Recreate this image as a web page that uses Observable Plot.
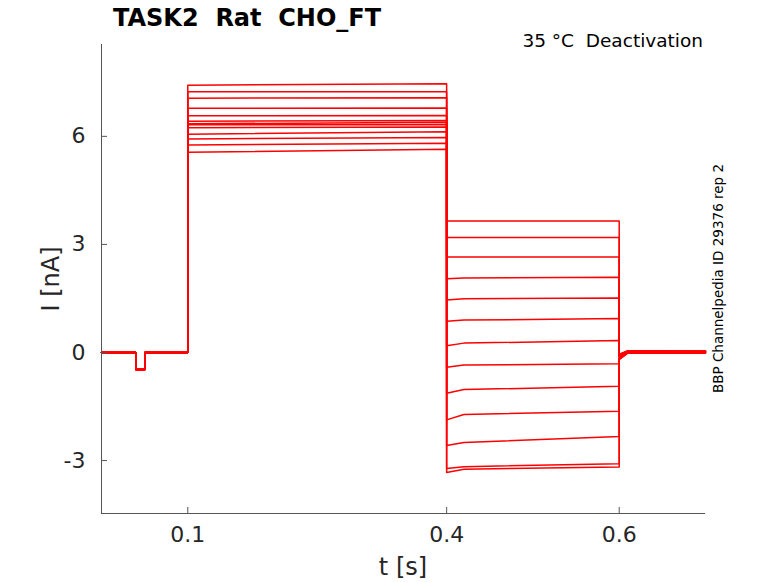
<!DOCTYPE html>
<html>
<head>
<meta charset="utf-8">
<script src="https://cdn.jsdelivr.net/npm/d3@7"></script>
<script src="https://cdn.jsdelivr.net/npm/@observablehq/plot@0.6"></script>
<style>
  html, body { margin: 0; padding: 0; background: #fff; }
  #chart { width: 778px; height: 583px; }
</style>
</head>
<body>
<div id="chart"></div>
<script>
// ---- data ----
const title = "TASK2  Rat  CHO_FT";
const subtitle = "35 °C  Deactivation";
const sideNote = "BBP Channelpedia ID 29376 rep 2";
const xLabel = "t [s]";
const yLabel = "I [nA]";

const xTicks = [0.1, 0.4, 0.6];
const yTicks = [-3, 0, 3, 6];

// protocol times (s)
const dipOn = 0.0397, dipOff = 0.0503;
const stepOn = 0.1, stepOff = 0.4, midT = 0.42, testOff = 0.6, tailMidT = 0.61, tEnd = 0.7;
const dipLevel = -0.47;

// activation step current (nA), at start and end of the step, per sweep
const actStart = [7.42, 7.24, 7.06, 6.78, 6.57, 6.42, 6.35, 6.32, 6.24, 6.06, 5.93, 5.76, 5.56];
const actEnd   = [7.46, 7.24, 7.07, 6.79, 6.58, 6.44, 6.39, 6.33, 6.26, 6.13, 5.97, 5.81, 5.64];

// deactivation test current (nA): start, early (0.42 s), end
const deacStart = [3.65, 3.19, 2.65, 2.05, 1.46, 0.87, 0.19, -0.41, -1.13, -1.87, -2.58, -3.22, -3.33];
const deacMid   = [3.65, 3.19, 2.65, 2.07, 1.49, 0.90, 0.26, -0.35, -1.03, -1.72, -2.50, -3.17, -3.24];
const deacEnd   = [3.65, 3.19, 2.65, 2.09, 1.51, 0.94, 0.33, -0.31, -0.94, -1.63, -2.33, -3.09, -3.18];

// tail current after return to holding (nA)
const tailStart = [-0.05, -0.06, -0.08, -0.10, -0.12, -0.14, -0.15, -0.16, -0.17, -0.18, -0.18, -0.19, -0.19];
const tailMid   = [0.05, 0.04, 0.04, 0.03, 0.03, 0.02, 0.02, 0.01, 0.01, 0.00, 0.00, -0.01, -0.02];
const tailEnd   = [0.04, 0.04, 0.03, 0.03, 0.02, 0.02, 0.01, 0.01, 0.00, 0.00, -0.01, -0.01, -0.02];

// ---- build table ----
const rows = [];
actStart.forEach((a, i) => {
  const pts = [
    [0, 0], [dipOn, 0], [dipOn, dipLevel], [dipOff, dipLevel], [dipOff, 0],
    [stepOn, 0], [stepOn, a], [stepOff, actEnd[i]],
    [stepOff, deacStart[i]], [midT, deacMid[i]], [testOff, deacEnd[i]],
    [testOff, tailStart[i]], [tailMidT, tailMid[i]], [tEnd, tailEnd[i]]
  ];
  pts.forEach(([t, v]) => rows.push({sweep: i, t, v}));
});

const W = 778, H = 583;
const mL = 101, mR = 73, mT = 44, mB = 70;
const frameW = W - mL - mR, frameH = H - mT - mB;
const axisColor = "#555";

const svg = Plot.plot({
  width: W, height: H,
  marginLeft: mL, marginRight: mR, marginTop: mT, marginBottom: mB,
  style: {fontFamily: "DejaVu Sans", color: "#262626", background: "white", overflow: "visible"},
  x: {domain: [0, 0.7]},
  y: {domain: [-4.47, 8.55]},
  marks: [
    Plot.line(rows, {x: "t", y: "v", z: "sweep", stroke: "#ff0000", strokeWidth: 1.5}),
    Plot.ruleX([0], {stroke: axisColor}),
    Plot.ruleY([-4.47], {stroke: axisColor}),
    Plot.tickX(xTicks, {x: d => d, stroke: axisColor, insetTop: frameH - 6}),
    Plot.tickY(yTicks, {y: d => d, stroke: axisColor, insetRight: frameW - 6}),
    Plot.axisX(xTicks, {tickSize: 0, tickPadding: 13, fontSize: 22, tickFormat: d => String(d), label: null}),
    Plot.axisY(yTicks, {tickSize: 0, tickPadding: 16, fontSize: 22, tickFormat: d => String(d), label: null})
  ]
});

const s = d3.select(svg);
s.append("text").attr("x", 113).attr("y", 26).attr("text-anchor", "start")
  .attr("font-size", 24).attr("font-weight", "bold").attr("fill", "#000")
  .style("white-space", "pre").text(title);
s.append("text").attr("x", 703).attr("y", 47).attr("text-anchor", "end")
  .attr("font-size", 18.5).attr("fill", "#000")
  .style("white-space", "pre").text(subtitle);
s.append("text").attr("transform", "translate(723,278.5) rotate(-90)")
  .attr("text-anchor", "middle").attr("font-size", 13.5).attr("fill", "#000")
  .text(sideNote);
s.append("text").attr("x", 403).attr("y", 575).attr("text-anchor", "middle")
  .attr("font-size", 24).attr("fill", "#262626").text(xLabel);
s.append("text").attr("transform", "translate(59,279) rotate(-90)")
  .attr("text-anchor", "middle").attr("font-size", 24).attr("fill", "#262626").text(yLabel);

document.getElementById("chart").appendChild(svg);
</script>
</body>
</html>
